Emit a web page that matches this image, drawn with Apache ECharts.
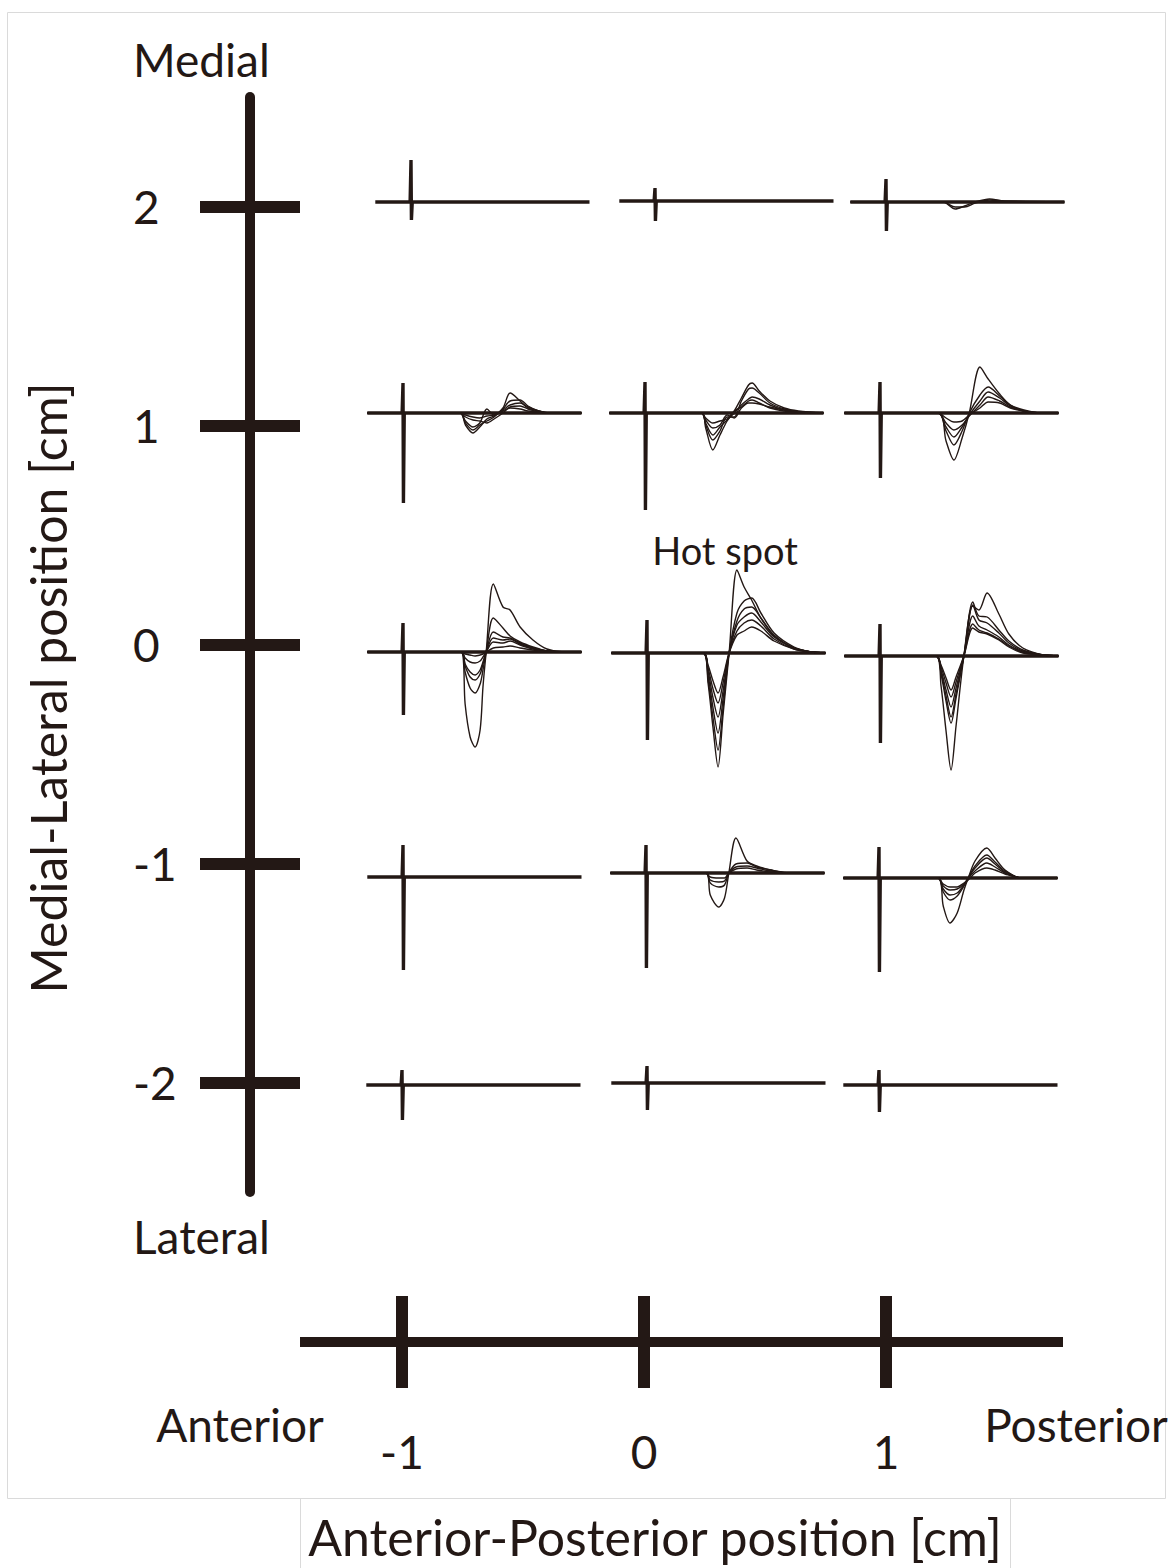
<!DOCTYPE html>
<html><head><meta charset="utf-8">
<script src="https://cdn.jsdelivr.net/npm/echarts@6/dist/echarts.min.js"></script>
<style>html,body{margin:0;padding:0;background:#fff}#c{width:1171px;height:1568px}</style>
</head><body><div id="c"></div>
<script>
// ---------------- DATA ----------------
// Axis tick labels
const mlLabels = [2, 1, 0, -1, -2];          // Medial-Lateral position [cm] (rows, top to bottom)
const apLabels = [-1, 0, 1];                 // Anterior-Posterior position [cm] (columns)

// Stimulus artifact amplitude (up / down) per row, per column
const stimUp   = [[0.42, 0.13, 0.23], [0.30, 0.31, 0.31], [0.29, 0.33, 0.32], [0.32, 0.28, 0.31], [0.15, 0.17, 0.15]];
const stimDown = [[-0.18, -0.20, -0.29], [-0.90, -0.97, -0.65], [-0.63, -0.87, -0.87], [-0.93, -0.95, -0.94], [-0.35, -0.27, -0.27]];

// MEP traces: time after stimulus (ms) and amplitudes
// ML = 2, AP = 1
const t_r2c3 = [-10, 16, 19.4, 22, 25, 29, 33, 50];
const v_r2c3 = [[0, 0, -0.07, -0.04, 0.0, 0.03, 0.01, 0], [0, 0, -0.05, -0.05, -0.01, 0.02, 0.01, 0]];

// ML = 1
const t_r1c1 = [-10, 16, 17.5, 19.6, 21.5, 23.5, 25.5, 28, 30, 32.8, 35, 38, 41, 50];
const v_r1c1 = [
  [0, 0, -0.12, -0.20, -0.14, -0.06, -0.03, 0.05, 0.20, 0.12, 0.05, 0.02, 0, 0],
  [0, 0, -0.10, -0.17, -0.12, -0.08, -0.04, 0.04, 0.12, 0.13, 0.07, 0.02, 0, 0],
  [0, 0, -0.08, -0.14, -0.10, 0.04, -0.02, 0.03, 0.08, 0.10, 0.06, 0.02, 0, 0],
  [0, 0, -0.04, -0.07, -0.08, -0.10, -0.06, 0.00, 0.06, 0.07, 0.04, 0.01, 0, 0],
  [0, 0, -0.02, -0.04, -0.05, -0.03, -0.02, 0.02, 0.05, 0.04, 0.02, 0.01, 0, 0]
];
const t_r1c2 = [-10, 15.8, 17, 19, 21, 23, 25, 27, 29, 30, 32, 35, 39, 43, 50];
const v_r1c2 = [
  [0, 0, -0.15, -0.37, -0.22, -0.08, 0.02, 0.15, 0.28, 0.30, 0.22, 0.12, 0.05, 0.02, 0],
  [0, 0, -0.12, -0.27, -0.18, -0.04, -0.04, 0.12, 0.24, 0.25, 0.20, 0.10, 0.04, 0.01, 0],
  [0, 0, -0.10, -0.22, -0.14, -0.07, 0.00, 0.08, 0.14, 0.16, 0.14, 0.08, 0.03, 0.01, 0],
  [0, 0, -0.07, -0.15, -0.12, -0.02, -0.05, 0.05, 0.10, 0.10, 0.09, 0.06, 0.03, 0.01, 0],
  [0, 0, -0.05, -0.10, -0.08, -0.06, 0.02, 0.06, 0.12, 0.13, 0.10, 0.05, 0.02, 0.00, 0]
];
const t_r1c3 = [-10, 16.3, 18.5, 20.7, 23, 25, 28, 30.3, 33.5, 36.5, 40.3, 45, 50];
const v_r1c3 = [
  [0, 0, -0.28, -0.47, -0.25, 0.00, 0.46, 0.34, 0.19, 0.08, 0.02, 0, 0],
  [0, 0, -0.18, -0.32, -0.18, 0.00, 0.18, 0.26, 0.17, 0.08, 0.03, 0, 0],
  [0, 0, -0.14, -0.24, -0.14, -0.02, 0.12, 0.21, 0.15, 0.07, 0.02, 0, 0],
  [0, 0, -0.10, -0.17, -0.12, -0.03, 0.08, 0.16, 0.12, 0.06, 0.02, 0, 0],
  [0, 0, -0.05, -0.09, -0.08, -0.02, 0.05, 0.11, 0.10, 0.05, 0.02, 0, 0]
];

// ML = 0
const t_r0c1 = [-10, 16.3, 17.4, 18.8, 20.2, 21.6, 22.4, 23.3, 25.3, 28, 30, 32.8, 36.4, 40.3, 45, 50];
const v_r0c1 = [
  [0, 0, -0.52, -0.85, -0.95, -0.78, -0.35, 0.0, 0.68, 0.45, 0.42, 0.25, 0.12, 0.03, 0, 0],
  [0, 0, -0.20, -0.36, -0.41, -0.32, -0.18, 0.0, 0.34, 0.24, 0.16, 0.10, 0.05, 0.01, 0, 0],
  [0, 0, -0.14, -0.25, -0.28, -0.22, -0.12, 0.0, 0.20, 0.15, 0.14, 0.09, 0.04, 0.01, 0, 0],
  [0, 0, -0.12, -0.20, -0.23, -0.18, -0.10, 0.0, 0.14, 0.12, 0.13, 0.08, 0.04, 0.01, 0, 0],
  [0, 0, -0.06, -0.10, -0.11, -0.09, -0.05, 0.0, 0.10, 0.09, 0.11, 0.07, 0.03, 0.01, 0, 0],
  [0, 0, -0.02, -0.03, -0.04, -0.03, -0.02, 0.0, 0.04, 0.05, 0.06, 0.04, 0.02, 0.00, 0, 0]
];
const t_r0c2 = [-10, 15.7, 17.1, 18.5, 19.9, 21.3, 23, 25.2, 27.2, 29.3, 31.9, 35.6, 41.2, 46, 50];
const v_r0c2 = [
  [0, 0, -0.30, -0.75, -1.14, -0.62, 0.0, 0.83, 0.66, 0.53, 0.35, 0.17, 0.05, 0.01, 0],
  [0, 0, -0.26, -0.65, -0.97, -0.55, 0.0, 0.40, 0.52, 0.55, 0.40, 0.20, 0.06, 0.01, 0],
  [0, 0, -0.22, -0.55, -0.80, -0.46, 0.0, 0.32, 0.44, 0.46, 0.35, 0.18, 0.05, 0.01, 0],
  [0, 0, -0.18, -0.45, -0.64, -0.38, 0.0, 0.28, 0.36, 0.40, 0.31, 0.16, 0.05, 0.01, 0],
  [0, 0, -0.15, -0.36, -0.50, -0.30, 0.0, 0.22, 0.30, 0.33, 0.27, 0.14, 0.04, 0.01, 0],
  [0, 0, -0.12, -0.28, -0.40, -0.24, 0.0, 0.18, 0.22, 0.26, 0.22, 0.12, 0.04, 0.01, 0]
];
const t_r0c3 = [-10, 15.7, 17.1, 18.5, 19.9, 21.3, 23.5, 26, 27.7, 30, 33.3, 36.1, 40, 45.7, 50];
const v_r0c3 = [
  [0, 0, -0.30, -0.75, -1.14, -0.70, 0.0, 0.50, 0.46, 0.63, 0.42, 0.22, 0.08, 0.01, 0],
  [0, 0, -0.18, -0.45, -0.67, -0.42, 0.0, 0.54, 0.40, 0.39, 0.26, 0.15, 0.06, 0.01, 0],
  [0, 0, -0.16, -0.40, -0.61, -0.38, 0.0, 0.51, 0.36, 0.33, 0.23, 0.13, 0.05, 0.01, 0],
  [0, 0, -0.14, -0.34, -0.51, -0.32, 0.0, 0.40, 0.30, 0.26, 0.19, 0.11, 0.04, 0.01, 0],
  [0, 0, -0.11, -0.27, -0.41, -0.26, 0.0, 0.32, 0.26, 0.23, 0.17, 0.10, 0.04, 0.01, 0],
  [0, 0, -0.09, -0.22, -0.34, -0.21, 0.0, 0.28, 0.24, 0.22, 0.16, 0.09, 0.03, 0.01, 0]
];

// ML = -1
const t_rm1c2 = [-10, 16.8, 18, 20.4, 22, 23.2, 25.2, 28.3, 31, 35, 40, 50];
const v_rm1c2 = [
  [0, 0, -0.22, -0.34, -0.25, 0.0, 0.35, 0.12, 0.07, 0.03, 0.0, 0],
  [0, 0, -0.10, -0.14, -0.12, 0.0, 0.09, 0.10, 0.06, 0.03, 0.0, 0],
  [0, 0, -0.07, -0.09, -0.08, 0.0, 0.06, 0.07, 0.05, 0.02, 0.0, 0],
  [0, 0, -0.04, -0.05, -0.05, 0.0, 0.04, 0.05, 0.03, 0.01, 0.0, 0]
];
const t_rm1c3 = [-10, 16.5, 18, 19.9, 21.9, 23.8, 25, 26.9, 30.2, 32.5, 35.3, 40, 50];
const v_rm1c3 = [
  [0, 0, -0.28, -0.45, -0.35, -0.12, 0.00, 0.17, 0.30, 0.20, 0.08, 0.0, 0],
  [0, 0, -0.14, -0.22, -0.18, -0.08, 0.00, 0.12, 0.23, 0.16, 0.07, 0.0, 0],
  [0, 0, -0.11, -0.17, -0.15, -0.07, 0.00, 0.10, 0.20, 0.14, 0.06, 0.0, 0],
  [0, 0, -0.08, -0.12, -0.11, -0.06, 0.00, 0.07, 0.15, 0.11, 0.05, 0.0, 0],
  [0, 0, -0.06, -0.09, -0.09, -0.05, -0.02, 0.05, 0.10, 0.08, 0.04, 0.0, 0]
];

// panel -> traces lookup [row][col]
const mepTimes  = [[null, null, t_r2c3], [t_r1c1, t_r1c2, t_r1c3], [t_r0c1, t_r0c2, t_r0c3], [null, t_rm1c2, t_rm1c3], [null, null, null]];
const mepValues = [[null, null, v_r2c3], [v_r1c1, v_r1c2, v_r1c3], [v_r0c1, v_r0c2, v_r0c3], [null, v_rm1c2, v_rm1c3], [null, null, null]];

// ---------------- LAYOUT ----------------
const C = '#231815';
const FONT = 'Lato';
const PXMS = 3.57, PXU = 100;
const stimX = [[411, 655, 886], [403, 645, 880], [403, 647, 880], [403, 646, 879], [402, 647, 879]];
const baseY = [[202, 201, 202], [413, 413, 413], [652, 653, 656], [877, 873, 878], [1085, 1083, 1085]];

const grids = [
  { left: 250, top: 97, width: 2, height: 1095 },
  { left: 300, top: 1292, width: 763, height: 50 }
];
const xAxes = [
  { gridIndex: 0, type: 'value', show: false, min: 0, max: 1 },
  { gridIndex: 1, type: 'value', min: -1.4215, max: 1.7314, position: 'bottom',
    axisLine: { show: true, lineStyle: { color: C, width: 10, cap: 'butt' } },
    axisTick: { show: true, customValues: apLabels, length: 46, inside: false, lineStyle: { color: C, width: 12 } },
    axisLabel: { show: true, customValues: apLabels, margin: 86, fontSize: 46, fontFamily: FONT, color: C, formatter: v => String(v) },
    splitLine: { show: false } },
  { gridIndex: 1, type: 'value', min: -1.4215, max: 1.7314, position: 'bottom',
    axisLine: { show: false },
    axisTick: { show: true, customValues: apLabels, length: 46, inside: true, lineStyle: { color: C, width: 12 } },
    axisLabel: { show: false }, splitLine: { show: false } }
];
const yAxes = [
  { gridIndex: 0, type: 'value', min: -2.5, max: 2.5, position: 'left',
    axisLine: { show: true, lineStyle: { color: C, width: 10 } },
    axisTick: { show: true, customValues: mlLabels, length: 50, inside: false, lineStyle: { color: C, width: 12 } },
    axisLabel: { show: true, customValues: mlLabels, margin: 117, align: 'left', fontSize: 46, fontFamily: FONT, color: C, formatter: v => String(v) },
    splitLine: { show: false } },
  { gridIndex: 0, type: 'value', min: -2.5, max: 2.5, position: 'left',
    axisLine: { show: false },
    axisTick: { show: true, customValues: mlLabels, length: 50, inside: true, lineStyle: { color: C, width: 12 } },
    axisLabel: { show: false }, splitLine: { show: false } },
  { gridIndex: 1, type: 'value', show: false, min: 0, max: 1 }
];
const series = [];

for (let r = 0; r < 5; r++) {
  for (let c = 0; c < 3; c++) {
    const gi = grids.length;
    grids.push({ left: stimX[r][c] - 10 * PXMS, top: baseY[r][c] - 1.5 * PXU, width: 60 * PXMS, height: 3 * PXU });
    const ai = xAxes.length;
    xAxes.push({ gridIndex: gi, type: 'value', show: false, min: -10, max: 50 });
    yAxes.push({ gridIndex: gi, type: 'value', show: false, min: -1.5, max: 1.5 });
    // baseline + stimulus artifact
    series.push({
      type: 'line', xAxisIndex: ai, yAxisIndex: ai, symbol: 'none', silent: true,
      lineStyle: { color: C, width: 3.4 },
      data: [[-10, 0], [-0.25, 0], [0, stimUp[r][c]], [0.12, stimDown[r][c]], [0.35, 0], [50, 0]]
    });
    const T = mepTimes[r][c], V = mepValues[r][c];
    if (T) {
      V.forEach(v => {
        series.push({
          type: 'line', xAxisIndex: ai, yAxisIndex: ai, symbol: 'none', silent: true,
          smooth: 0.3, lineStyle: { color: C, width: 1.4 },
          data: T.map((t, i) => [t, v[i]])
        });
      });
    }
  }
}

function txt(text, x, y, size, align, rot) {
  return { type: 'text', x: x, y: y, rotation: rot || 0, silent: true,
    style: { text: text, fill: C, fontSize: size, fontFamily: FONT, align: align, verticalAlign: 'middle',
             textAlign: align, textVerticalAlign: 'middle' } };
}

const chart = echarts.init(document.getElementById('c'), null, { renderer: 'svg' });
chart.setOption({
  backgroundColor: '#fff',
  animation: false,
  grid: grids, xAxis: xAxes, yAxis: yAxes, series: series,
  graphic: [
    { type: 'rect', silent: true, shape: { x: 7.5, y: 12.5, width: 1158, height: 1486 }, style: { fill: 'none', stroke: '#dadada', lineWidth: 1 } },
    { type: 'rect', silent: true, shape: { x: 300.5, y: 1498.5, width: 710, height: 80 }, style: { fill: 'none', stroke: '#dadada', lineWidth: 1 } },
    txt('Medial', 133, 59, 46, 'left'),
    txt('Lateral', 133, 1236, 46, 'left'),
    txt('Anterior', 240, 1424, 46, 'center'),
    txt('Posterior', 1076, 1424, 46, 'center'),
    txt('Hot spot', 725, 550, 38, 'center'),
    txt('Medial-Lateral position [cm]', 48, 688, 50, 'center', Math.PI / 2),
    txt('Anterior-Posterior position [cm]', 655, 1537, 50, 'center')
  ]
});
</script></body></html>
